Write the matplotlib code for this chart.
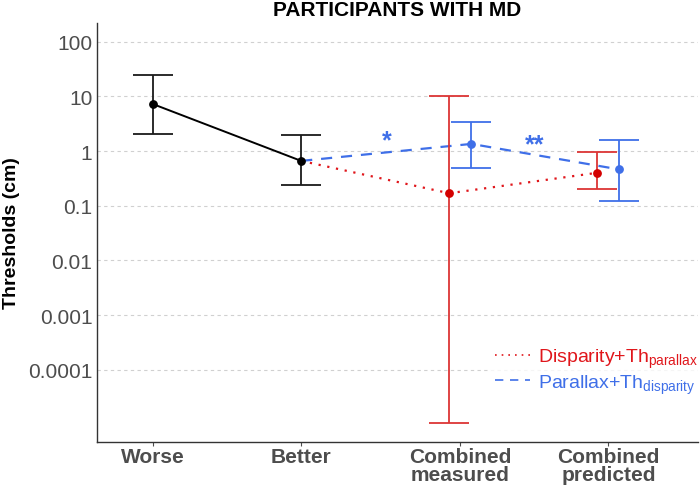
"""Thresholds for participants with MD: worse, better and combined cues."""

import matplotlib.pyplot as plt
from matplotlib.ticker import FixedLocator, NullLocator

plt.rcParams["font.family"] = ["Liberation Sans", "DejaVu Sans"]

categories = ["Worse", "Better", "Combined\nmeasured", "Combined\npredicted"]
tick_pos = [1.0, 2.0, 3.075, 4.075]

# single-cue thresholds (cm)
single_x = [1.0, 2.0]
single_y = [7.2, 0.66]
single_lo = [2.07, 0.24]
single_hi = [24.6, 1.99]

# Disparity + Th_parallax (red)
red_x = [2.0, 3.0, 4.0]
red_y = [0.66, 0.169, 0.40]
red_lo = [None, 1.07e-5, 0.205]
red_hi = [None, 10.0, 0.97]

# Parallax + Th_disparity (blue)
blue_x = [2.0, 3.15, 4.15]
blue_y = [0.66, 1.35, 0.46]
blue_lo = [None, 0.48, 0.12]
blue_hi = [None, 3.44, 1.61]

yticks = [100, 10, 1, 0.1, 0.01, 0.001, 0.0001]
ytick_labels = ["100", "10", "1", "0.1", "0.01", "0.001", "0.0001"]

RED = "#e0161b"
RED_BAR = "#dc3535"
BLUE = "#3f6fe8"
GREY = "#4d4d4d"


def errbars(ax, xs, ys, lo, hi, color):
    for x, y, l, h in zip(xs, ys, lo, hi):
        if l is None:
            continue
        ax.errorbar([x], [y], yerr=[[y - l], [h - y]], fmt="none", ecolor=color,
                    elinewidth=1.3, capsize=14.5, capthick=1.3, zorder=3)


fig = plt.figure(figsize=(7, 4.89), dpi=100)
ax = fig.add_axes([0.138, 0.0947, 0.859, 0.8563])

ax.plot(red_x, red_y, color=RED, linestyle=(0, (1, 3)), linewidth=1.6, zorder=2,
        label=r"Disparity+Th$_{\mathregular{parallax}}$")
ax.plot(blue_x, blue_y, color=BLUE, linestyle=(0, (5, 4)), linewidth=1.6, zorder=2,
        label=r"Parallax+Th$_{\mathregular{disparity}}$")
ax.plot(single_x, single_y, color="black", linewidth=1.4, zorder=4)

errbars(ax, single_x, single_y, single_lo, single_hi, "#1a1a1a")
errbars(ax, red_x, red_y, red_lo, red_hi, RED_BAR)
errbars(ax, blue_x, blue_y, blue_lo, blue_hi, BLUE)

ax.scatter(single_x, single_y, s=28, color="black", zorder=5)
ax.scatter(red_x[1:], red_y[1:], s=28, color="#d40000", zorder=5)
ax.scatter(blue_x[1:], blue_y[1:], s=28, color=BLUE, zorder=5)

ax.text(2.575, 1.55, "*", color=BLUE, fontsize=18, fontweight="bold", ha="center", va="center")
ax.text(3.575, 1.35, "**", color=BLUE, fontsize=18, fontweight="bold", ha="center", va="center")

ax.set_yscale("log")
ax.set_ylim(4.83e-6, 220)
ax.set_xlim(0.618, 4.68)
ax.yaxis.set_major_locator(FixedLocator(yticks))
ax.yaxis.set_minor_locator(NullLocator())
ax.set_yticklabels(ytick_labels)
ax.set_xticks(tick_pos)
ax.set_xticklabels(categories, fontsize=15, fontweight="bold", color=GREY, linespacing=0.95)
ax.tick_params(axis="y", labelsize=15, labelcolor=GREY, length=0, pad=3)
ax.tick_params(axis="x", length=3, color=GREY, pad=0.5)
ax.grid(axis="y", color="#d0d0d0", linestyle=(0, (3, 3)), linewidth=0.8)
ax.set_axisbelow(True)
for side in ("top", "right"):
    ax.spines[side].set_visible(False)
for side in ("left", "bottom"):
    ax.spines[side].set_color("#333333")
    ax.spines[side].set_linewidth(1.0)

ax.set_ylabel("Thresholds (cm)", fontsize=14, fontweight="bold")
ax.yaxis.set_label_coords(-0.128, 0.5)
ax.set_title("PARTICIPANTS WITH MD", fontsize=15, fontweight="bold", pad=6)

leg = ax.legend(loc="lower right", bbox_to_anchor=(1.025, 0.073), frameon=True, fontsize=14,
                handlelength=1.8, handletextpad=0.4, labelspacing=0.1, borderpad=0.3)
leg.get_frame().set_facecolor("white")
leg.get_frame().set_edgecolor("none")
for text, color in zip(leg.get_texts(), [RED, BLUE]):
    text.set_color(color)
for line in leg.get_lines():
    line.set_linewidth(1.2)

fig.savefig("out.png", dpi=100)
